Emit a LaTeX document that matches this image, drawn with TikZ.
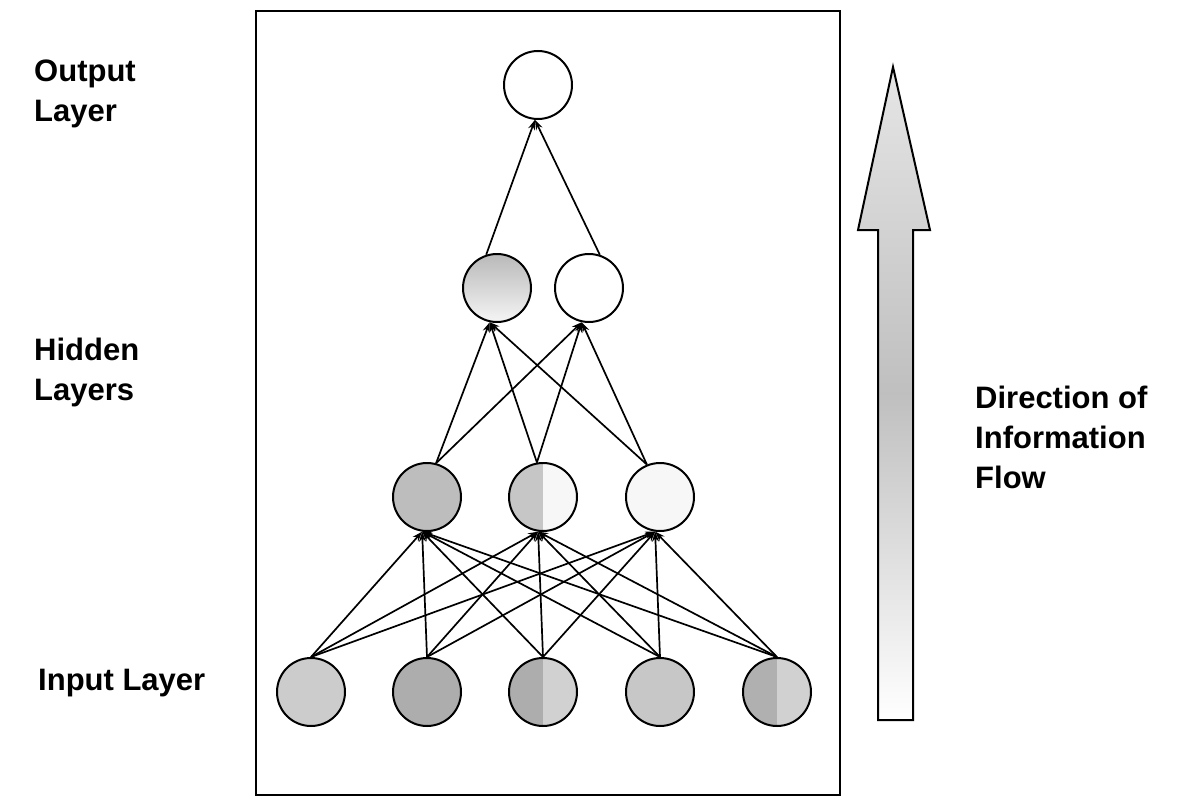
\documentclass[tikz,border=0pt]{standalone}
\usepackage{fontspec}
\setmainfont{Liberation Sans}
\usetikzlibrary{arrows.meta}
\begin{document}
\begin{tikzpicture}[x=1pt,y=-1pt]
\tikzset{
  unit/.style={circle, draw=black, line width=2pt, minimum size=68pt, inner sep=0pt},
  halfunit/.style 2 args={unit, path picture={
      \fill[#2] (path picture bounding box.south west) rectangle (path picture bounding box.north east);
      \fill[#1] (path picture bounding box.south west) rectangle (path picture bounding box.north);}},
  link/.style={line width=1.7pt, -{Stealth[length=10pt,width=7pt]}},
  lbl/.style={font=\bfseries\fontsize{31}{40}\selectfont, align=left, anchor=north west, inner sep=0pt},
  frame/.style={draw=black, line width=1.8pt}
}
\useasboundingbox (0,0) rectangle (1191,800);
\fill[white] (0,0) rectangle (1191,800);

% enclosing frame
\draw[frame] (256,11) rectangle (840,795);

% side labels
\node[lbl] (lout) at (34,60) {Output\\Layer};
\node[lbl] (lhid) at (34,338) {Hidden\\Layers};
\node[lbl] (lin)  at (38,669) {Input Layer};
\node[lbl] (ldir) at (975,386) {Direction of\\Information\\Flow};

% units
\node[unit] (out) at (538,85) {};
\node[unit, top color=gray!55, bottom color=gray!8] (h2a) at (497,288) {};
\node[unit] (h2b) at (589,288) {};
\node[unit, fill=gray!52] (h1a) at (427,497) {};
\node[halfunit={gray!45}{gray!6}] (h1b) at (543,497) {};
\node[unit, fill=gray!6] (h1c) at (660,497) {};
\node[unit, fill=gray!40] (i1) at (311,692) {};
\node[unit, fill=gray!64] (i2) at (427,692) {};
\node[halfunit={gray!64}{gray!36}] (i3) at (543,692) {};
\node[unit, fill=gray!44] (i4) at (660,692) {};
\node[halfunit={gray!62}{gray!36}] (i5) at (777,692) {};

% input -> first hidden layer
\foreach \s in {i1,i2,i3,i4,i5}
  \foreach \t in {h1a,h1b,h1c}
    \draw[link] (\s.north) -- (\t.262);

% first hidden -> second hidden layer
\foreach \s/\a in {h1a/75,h1b/100,h1c/112}
  \foreach \t in {h2a,h2b}
    \draw[link] (\s.\a) -- (\t.258);

% second hidden -> output
\draw[link] (h2a.108) -- (out.265);
\draw[link] (h2b.72) -- (out.265);

% direction arrow
\draw[line width=2pt, line join=miter,
      top color=gray!20, bottom color=white, middle color=gray!50]
  (893,67) -- (930,230) -- (913,230) -- (913,720) -- (878,720) -- (878,230) -- (858,230) -- cycle;
\end{tikzpicture}
\end{document}
